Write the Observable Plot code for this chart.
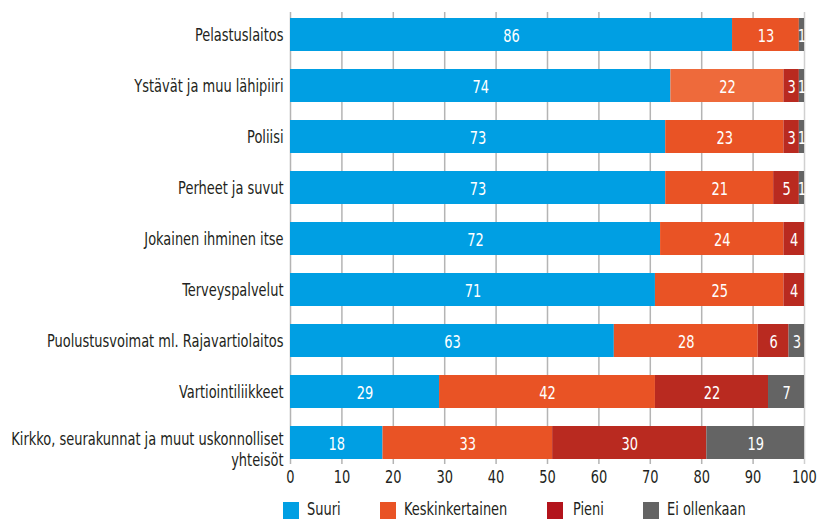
<!DOCTYPE html>
<html>
<head>
<meta charset="utf-8">
<script src="https://cdn.jsdelivr.net/npm/d3@7"></script>
<script src="https://cdn.jsdelivr.net/npm/@observablehq/plot@0.6"></script>
<style>
  body { margin: 0; background: #fff; font-family: "DejaVu Sans Condensed", "DejaVu Sans", sans-serif; }
  #wrap { position: relative; width: 817px; height: 519px; overflow: hidden; }
  .leg { position: absolute; top: 499px; font-size: 18.5px; color: #231f20; line-height: 20px; transform: scaleX(0.78); transform-origin: left center; white-space: nowrap; }
  .sw { position: absolute; top: 502px; width: 16px; height: 17px; }
</style>
</head>
<body>
<div id="wrap"><div id="chart"></div></div>
<script>
const categories = [
  "Pelastuslaitos",
  "Ystävät ja muu lähipiiri",
  "Poliisi",
  "Perheet ja suvut",
  "Jokainen ihminen itse",
  "Terveyspalvelut",
  "Puolustusvoimat ml. Rajavartiolaitos",
  "Vartiointiliikkeet",
  "Kirkko, seurakunnat ja muut uskonnolliset yhteisöt"
];
const seriesNames = ["Suuri", "Keskinkertainen", "Pieni", "Ei ollenkaan"];
const suuri = [86, 74, 73, 73, 72, 71, 63, 29, 18];
const keski = [13, 22, 23, 21, 24, 25, 28, 42, 33];
const pieni = [0, 3, 3, 5, 4, 4, 6, 22, 30];
const eiOllenkaan = [1, 1, 1, 1, 0, 0, 3, 7, 19];
const xTicks = [0, 10, 20, 30, 40, 50, 60, 70, 80, 90, 100];

const colors = ["#009fe3", "#e95325", "#b92a20", "#646464"];
const legendColors = ["#009fe3", "#e95325", "#b3141c", "#646464"];
const highlightColor = "#ee6a3b";

const seriesValues = [suuri, keski, pieni, eiOllenkaan];
const rows = [];
categories.forEach((c, i) => {
  seriesNames.forEach((s, j) => {
    rows.push({category: c, series: s, value: seriesValues[j][i], order: j});
  });
});

const fillOf = d => (d.category === "Ystävät ja muu lähipiiri" && d.series === "Keskinkertainen") ? highlightColor : colors[d.order];

const wrapped = categories[categories.length - 1];
const labelFormat = c => c === wrapped ? "Kirkko, seurakunnat ja muut uskonnolliset\nyhteisöt" : c;

const FONT = '"DejaVu Sans Condensed", "DejaVu Sans", sans-serif';
const chart = Plot.plot({
  width: 817,
  height: 490,
  marginLeft: 290,
  marginRight: 13,
  marginTop: 12,
  marginBottom: 26,
  style: {fontFamily: FONT, fontSize: "18px", color: "#231f20", background: "#fff"},
  x: {domain: [0, 100], axis: null},
  y: {domain: categories, paddingInner: 0.36, paddingOuter: 0.08, axis: null},
  marks: [
    Plot.ruleX(xTicks, {stroke: d => d === 100 ? "#d0d0d0" : "#b4b4b4", strokeWidth: 1.5}),
    Plot.barX(rows, Plot.stackX({y: "category", x: "value", order: "order", fill: fillOf})),
    Plot.text(rows.filter(d => d.value > 0), Plot.stackX({y: "category", x: "value", order: "order", text: d => String(d.value), fill: "white", fontSize: 18.5, dy: 1})),
    Plot.axisX({ticks: xTicks, tickSize: 0, tickPadding: 5, fontSize: 18.5, tickFormat: d => String(d), fill: "#231f20", label: null}),
    Plot.axisY({ticks: categories.slice(0, -1), tickSize: 0, tickPadding: 7, fontSize: 18.5, fill: "#231f20", label: null}),
    Plot.axisY({ticks: [wrapped], tickSize: 0, tickPadding: 7, fontSize: 18.5, tickFormat: labelFormat, fill: "#231f20", lineHeight: 1.1, dy: 6, label: null})
  ]
});
document.getElementById("chart").appendChild(chart);

// condense all text horizontally (the reference uses a condensed face)
chart.querySelectorAll("text").forEach(t => {
  const tr = t.getAttribute("transform") || "";
  t.setAttribute("transform", `${tr} scale(0.78,1)`);
});

const wrap = document.getElementById("wrap");
const swX = [283, 380, 547, 643];
const txX = [307, 404, 573, 667];
seriesNames.forEach((s, j) => {
  const sw = document.createElement("div");
  sw.className = "sw";
  sw.style.left = swX[j] + "px";
  sw.style.background = legendColors[j];
  wrap.appendChild(sw);
  const t = document.createElement("div");
  t.className = "leg";
  t.style.left = txX[j] + "px";
  t.textContent = s;
  wrap.appendChild(t);
});
</script>
</body>
</html>
